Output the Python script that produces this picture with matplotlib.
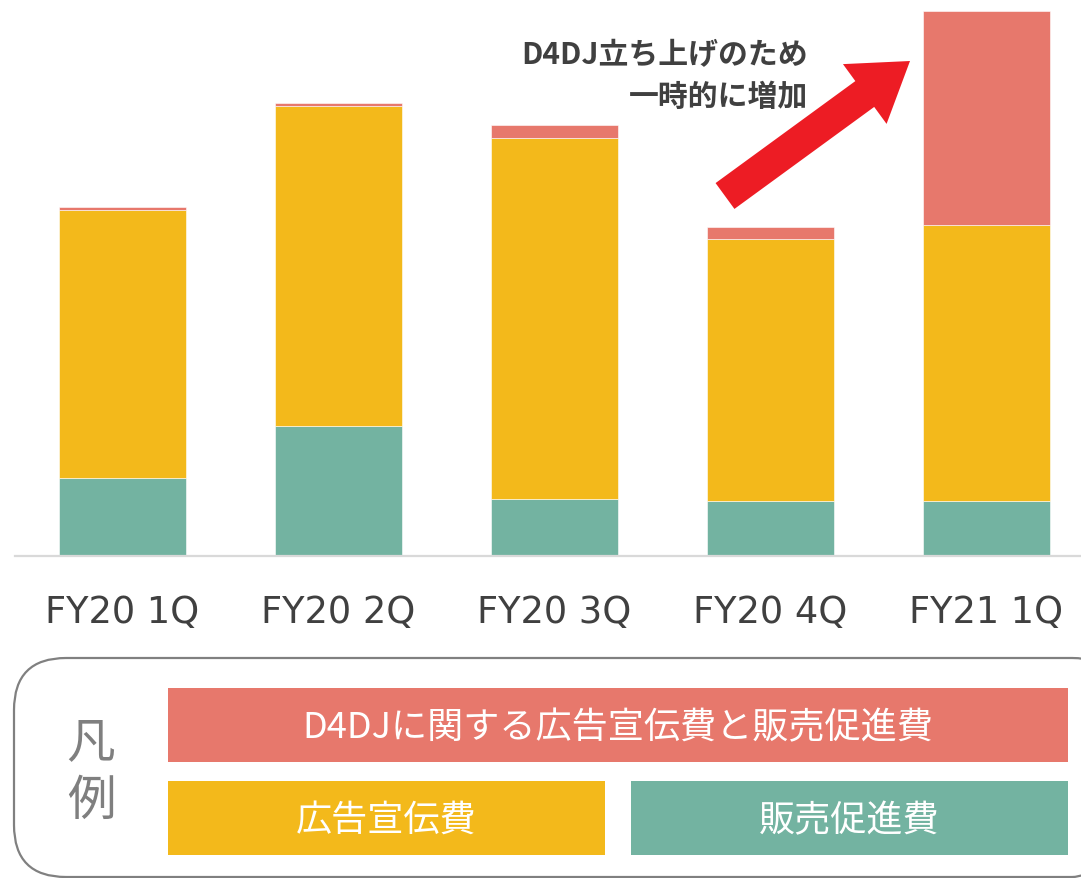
import numpy as np
import matplotlib
matplotlib.use("Agg")
import matplotlib.pyplot as plt
import matplotlib.patches as mpatches

plt.rcParams['font.family'] = ['Noto Sans CJK JP', 'DejaVu Sans']

# Data (relative heights)
quarters = ["FY20 1Q", "FY20 2Q", "FY20 3Q", "FY20 4Q", "FY21 1Q"]
promo = [77.8, 129.5, 56.8, 54.2, 54.2]        # 販売促進費
advert = [268.0, 320.0, 361.0, 262.0, 276.3]   # 広告宣伝費
d4dj = [2.7, 3.0, 12.4, 12.6, 214.0]           # D4DJに関する広告宣伝費と販売促進費

legend_d4dj = "D4DJに関する広告宣伝費と販売促進費"
legend_advert = "広告宣伝費"
legend_promo = "販売促進費"
note_lines = ["D4DJ立ち上げのため", "一時的に増加"]

RED = "#E7786C"
YELLOW = "#F3B91B"
TEAL = "#73B3A1"

W, H = 1081, 879
fig = plt.figure(figsize=(W / 100, H / 100), dpi=100)

# main bar axes (pixel-placed)
left_px, base_px = 15, 556.5
ax = fig.add_axes([left_px / W, (H - base_px) / H, (W - left_px) / W, base_px / H])
x = np.arange(len(quarters))
bw = 127 / 216
ax.bar(x, promo, bw, color=TEAL, edgecolor="white", linewidth=0.4)
ax.bar(x, advert, bw, bottom=promo, color=YELLOW, edgecolor="white", linewidth=0.4)
ax.bar(x, d4dj, bw, bottom=np.array(promo) + np.array(advert), color=RED,
       edgecolor="white", linewidth=0.4)

ax.set_xlim((left_px - 122) / 216, (W - 122) / 216)
ax.set_ylim(0, base_px)
for s in ["top", "right", "left"]:
    ax.spines[s].set_visible(False)
ax.spines["bottom"].set_color("#D9D9D9")
ax.spines["bottom"].set_linewidth(1.6)
ax.set_yticks([])
ax.set_xticks(x)
ax.set_xticklabels(quarters, fontsize=26.5, color="#404040", family=["DejaVu Sans"])
ax.tick_params(axis="x", length=0, pad=27)

# overlay axes in pixel coords for arrow, note and legend
ov = fig.add_axes([0, 0, 1, 1], facecolor="none")
ov.set_xlim(0, W)
ov.set_ylim(H, 0)
ov.axis("off")

tail = np.array([725, 197])
tip = np.array([910, 62])
d = tip - tail
ov.add_patch(mpatches.FancyArrow(tail[0], tail[1], d[0], d[1], width=32,
                                 head_width=74, head_length=56,
                                 length_includes_head=True, color="#ED1C24", lw=0))

ov.text(808, 55, note_lines[0], ha="right", va="center", fontsize=21.5,
        fontweight="bold", color="#404040")
ov.text(808, 97, note_lines[1], ha="right", va="center", fontsize=21.5,
        fontweight="bold", color="#404040")

# legend frame
ov.add_patch(mpatches.FancyBboxPatch((14, 659), 1110, 219,
                                     boxstyle="round,pad=0,rounding_size=52",
                                     fc="none", ec="#808080", lw=1.6))
ov.text(91, 743, "凡", ha="center", va="center", fontsize=35, color="#7F7F7F")
ov.text(91, 801, "例", ha="center", va="center", fontsize=35, color="#7F7F7F")

ov.add_patch(mpatches.Rectangle((168, 689), 900, 74, fc=RED, ec="none"))
ov.add_patch(mpatches.Rectangle((168, 782), 437, 74, fc=YELLOW, ec="none"))
ov.add_patch(mpatches.Rectangle((631, 782), 437, 74, fc=TEAL, ec="none"))
ov.text(618, 728, legend_d4dj, ha="center", va="center", fontsize=26, color="white")
ov.text(386, 821, legend_advert, ha="center", va="center", fontsize=26, color="white")
ov.text(849, 821, legend_promo, ha="center", va="center", fontsize=26, color="white")

fig.savefig("out.png", dpi=100)
